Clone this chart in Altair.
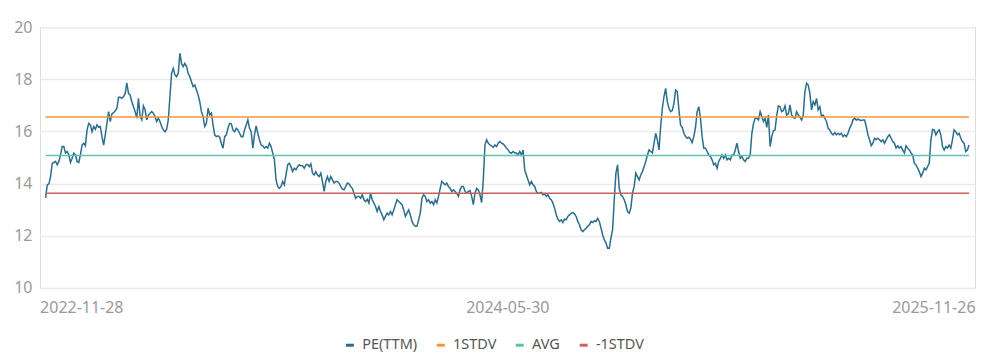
import altair as alt
import pandas as pd

# PE(TTM) readings, equally spaced trading-day samples from 2022-11-28 to 2025-11-26
pe_ttm = [
    13.45, 13.95, 13.99, 14.27, 14.78, 14.81, 14.85, 14.72, 14.85, 15.10, 15.42, 15.42, 15.17, 15.23, 15.10, 14.81,
    14.97, 15.17, 15.10, 14.85, 14.81, 15.10, 15.48, 15.55, 15.45, 16.06, 16.31, 16.25, 15.99, 16.19, 16.08, 16.25,
    16.16, 16.19, 15.80, 15.48, 15.87, 16.31, 16.76, 16.38, 16.67, 16.72, 16.79, 16.89, 17.31, 17.31, 17.27, 17.34,
    17.46, 17.85, 17.46, 17.40, 17.14, 16.95, 16.76, 16.51, 17.27, 16.57, 16.44, 16.98, 16.83, 16.44, 16.63, 16.70,
    16.76, 16.70, 16.57, 16.38, 16.51, 16.38, 16.19, 16.06, 15.99, 16.08, 16.44, 17.34, 18.23, 18.42, 18.17, 18.10,
    18.23, 19.00, 18.61, 18.49, 18.61, 18.49, 18.23, 18.10, 17.91, 17.72, 17.78, 17.59, 17.40, 17.14, 16.76, 16.57,
    16.19, 16.31, 16.89, 16.63, 16.70, 16.25, 15.87, 15.80, 15.83, 15.78, 15.55, 15.36, 15.80, 15.87, 16.12, 16.31,
    16.29, 16.06, 15.99, 16.12, 16.06, 15.93, 15.80, 15.80, 16.06, 16.25, 16.44, 16.12, 15.99, 15.36, 15.87, 16.21,
    15.93, 15.68, 15.48, 15.45, 15.36, 15.42, 15.36, 15.55, 15.42, 15.17, 14.91, 14.14, 13.89, 13.82, 13.89, 14.08,
    13.95, 14.33, 14.72, 14.78, 14.65, 14.46, 14.59, 14.53, 14.65, 14.72, 14.68, 14.68, 14.59, 14.72, 14.74, 14.65,
    14.76, 14.40, 14.33, 14.46, 14.33, 14.27, 14.40, 14.08, 13.70, 14.08, 14.27, 14.08, 14.27, 14.14, 14.02, 14.08,
    14.08, 14.02, 13.89, 13.79, 13.76, 13.89, 14.02, 13.99, 13.89, 13.82, 13.63, 13.44, 13.51,
    13.51, 13.44, 13.57, 13.38, 13.31, 13.40, 13.25, 13.63, 13.38, 13.25, 13.12, 12.93, 13.12, 12.93, 12.80, 12.61,
    12.74, 12.87, 12.80, 12.93, 12.80, 12.99, 13.19, 13.38, 13.31, 13.25, 13.19, 12.99, 12.74, 12.87, 12.99, 12.80,
    12.55, 12.42, 12.36, 12.36, 12.61, 12.87, 13.44, 13.57, 13.51, 13.31, 13.38, 13.25, 13.31, 13.19, 13.38, 13.25,
    13.51, 13.82, 14.08, 14.02, 13.95, 14.02, 13.89, 13.82, 13.70, 13.76, 13.70, 13.63, 13.51, 13.76, 13.89, 13.89,
    13.70, 13.63, 13.70, 13.73, 13.51, 13.19, 13.63, 13.82, 13.76, 13.57, 13.27, 14.14, 15.48, 15.68, 15.55, 15.48,
    15.45, 15.39, 15.48, 15.42, 15.55, 15.61, 15.55, 15.52, 15.45, 15.36, 15.29, 15.19, 15.17,
    15.23, 15.17, 15.17, 15.10, 15.23, 15.10, 15.29, 14.53, 14.33, 14.14, 13.95, 14.08, 13.95, 13.89, 13.70, 13.63,
    13.63, 13.66, 13.57, 13.61, 13.51, 13.57, 13.44, 13.38, 13.25, 13.06, 12.80, 12.64, 12.55, 12.61, 12.51, 12.64,
    12.61, 12.74, 12.80, 12.87, 12.89, 12.84, 12.74, 12.55, 12.42, 12.23, 12.16, 12.23, 12.29, 12.36, 12.42, 12.55,
    12.51, 12.58, 12.55, 12.67, 12.55, 12.29, 12.04, 11.84, 11.72, 11.52, 11.52, 11.91, 12.23, 13.38, 14.40, 14.72,
    13.82, 13.57, 13.51, 13.38, 13.19, 12.93, 12.87, 13.06, 13.63, 13.89, 14.40, 14.27, 14.14, 14.33, 14.46, 14.65,
    14.85, 15.10, 15.29, 15.23, 15.17, 15.55, 15.93, 15.68, 15.29, 16.19, 16.89, 17.34, 17.65,
    17.14, 16.89, 16.76, 16.80, 17.08, 17.59, 17.53, 16.83, 16.25, 16.16, 15.93, 15.80, 15.74, 15.78, 15.70, 15.57,
    15.80, 16.16, 16.76, 16.95, 16.51, 15.80, 15.36, 15.36, 15.23, 15.10, 15.04, 14.91, 14.72, 14.78, 14.59, 14.85,
    14.97, 15.10, 14.97, 15.10, 14.91, 14.97, 14.91, 15.10, 15.10, 15.29, 15.55, 15.23, 14.97, 15.04, 14.91, 14.85,
    14.97, 14.97, 15.10, 15.93, 16.31, 16.51, 16.51, 16.44, 16.76, 16.57, 16.38, 16.51, 16.16, 16.63, 15.42, 15.80,
    16.03, 16.06, 16.63, 16.98, 16.95, 16.76, 16.80, 16.98, 16.63, 16.67, 17.02, 16.63, 16.54, 16.51, 16.76, 16.63,
    16.54, 16.44, 16.63, 17.53, 17.85, 17.78, 17.46, 16.83, 17.14, 17.02, 17.27, 16.83, 16.95,
    16.57, 16.63, 16.51, 16.38, 16.12, 16.06, 15.93, 15.87, 15.96, 15.87, 15.93, 15.87, 15.93, 15.80, 15.87, 15.80,
    15.93, 16.12, 16.25, 16.44, 16.51, 16.44, 16.47, 16.44, 16.42, 16.44, 16.44, 16.19, 15.87, 15.68, 15.45, 15.55,
    15.74, 15.68, 15.74, 15.68, 15.61, 15.68, 15.55, 15.68, 15.80, 15.87, 15.74, 15.61, 15.55, 15.36, 15.45, 15.36,
    15.42, 15.29, 15.17, 15.45, 15.36, 15.29, 15.17, 15.10, 14.78, 14.72, 14.59, 14.46, 14.27, 14.40, 14.59, 14.53,
    14.65, 14.78, 15.68, 16.08, 16.06, 15.87, 15.99, 16.06, 15.87, 15.42, 15.29, 15.42, 15.36, 15.48, 15.36, 15.68,
    16.06, 15.99, 15.87, 15.93, 15.74, 15.61, 15.55, 15.23, 15.29, 15.48,
]

x_tick_labels = ["2022-11-28", "2024-05-30", "2025-11-26"]
series_names = ["PE(TTM)", "1STDV", "AVG", "-1STDV"]
series_colors = ["#2b6e8c", "#f2963a", "#5cc3b2", "#c9625f"]
level_1stdv = 16.55
level_avg = 15.08
level_m1stdv = 13.63
y_ticks = [10, 12, 14, 16, 18, 20]

n = len(pe_ttm)
last = n - 1
mid = last / 2

rows = [{"idx": i, "value": v, "series": "PE(TTM)", "ord": 0} for i, v in enumerate(pe_ttm)]
for k, (name, lvl) in enumerate(zip(series_names[1:], [level_1stdv, level_avg, level_m1stdv])):
    rows.append({"idx": 0, "value": lvl, "series": name, "ord": k + 1})
    rows.append({"idx": last, "value": lvl, "series": name, "ord": k + 1})
df = pd.DataFrame(rows)

label_expr = (
    f"datum.value == 0 ? '{x_tick_labels[0]}' : "
    f"(datum.value == {last} ? '{x_tick_labels[2]}' : '{x_tick_labels[1]}')"
)

FONT = "Noto Sans"

chart = (
    alt.Chart(df)
    .mark_line(strokeWidth=1.5)
    .encode(
        x=alt.X(
            "idx:Q",
            scale=alt.Scale(domain=[-3.4, last + 3.6], nice=False, zero=False),
            axis=alt.Axis(
                values=[0, mid, last],
                labelExpr=label_expr,
                grid=False,
                domain=False,
                ticks=False,
                labelFlush=12,
                labelFlushOffset=6,
                labelPadding=12,
                labelFontSize=16,
                labelColor="#9a9a9a",
                labelFont=FONT,
                title=None,
            ),
        ),
        y=alt.Y(
            "value:Q",
            scale=alt.Scale(domain=[10, 20], nice=False, zero=False),
            axis=alt.Axis(
                values=y_ticks,
                grid=True,
                gridColor="#ebebeb",
                gridWidth=1.5,
                domain=False,
                ticks=False,
                labelPadding=8,
                labelFontSize=16,
                labelColor="#9a9a9a",
                labelFont=FONT,
                title=None,
            ),
        ),
        color=alt.Color(
            "series:N",
            scale=alt.Scale(domain=series_names, range=series_colors),
            legend=alt.Legend(
                title=None,
                orient="none",
                direction="horizontal",
                legendX=303,
                legendY=311,
                symbolType="stroke",
                symbolSize=64,
                symbolStrokeWidth=3,
                labelFontSize=14.5,
                labelFont=FONT,
                labelColor="#555555",
                labelOffset=5,
                columnPadding=13,
                padding=0,
            ),
        ),
        order=alt.Order("ord:Q"),
        detail="series:N",
    )
    .properties(
        width=936,
        height=261,
        autosize=alt.AutoSizeParams(type="none"),
        padding={"left": 32, "top": 19, "right": 10, "bottom": 70},
    )
    .configure_view(stroke=None)
    .configure(background="white")
)

chart.save("out.html", embed_options={"renderer": "svg", "actions": False})
